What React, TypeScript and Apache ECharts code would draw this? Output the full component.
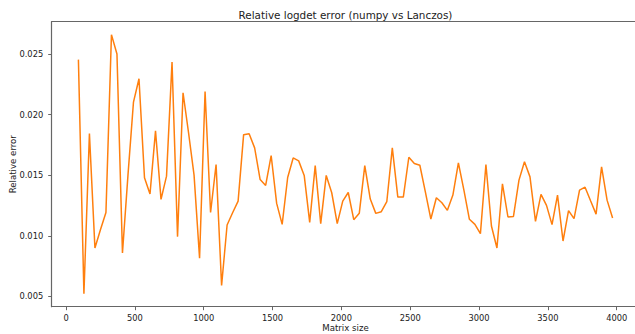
import React, { useEffect, useRef } from "react";
import * as echarts from "echarts";

const matrixSizes: number[] = [
  90, 130, 170, 210, 250, 290, 330, 370, 410, 450,
  490, 530, 570, 610, 650, 690, 730, 770, 810, 850,
  890, 930, 970, 1010, 1050, 1090, 1130, 1170, 1210, 1250,
  1290, 1330, 1370, 1410, 1450, 1490, 1530, 1570, 1610, 1650,
  1690, 1730, 1770, 1810, 1850, 1890, 1930, 1970, 2010, 2050,
  2090, 2130, 2170, 2210, 2250, 2290, 2330, 2370, 2410, 2450,
  2490, 2530, 2570, 2610, 2650, 2690, 2730, 2770, 2810, 2850,
  2890, 2930, 2970, 3010, 3050, 3090, 3130, 3170, 3210, 3250,
  3290, 3330, 3370, 3410, 3450, 3490, 3530, 3570, 3610, 3650,
  3690, 3730, 3770, 3810, 3850, 3890, 3930, 3970,
];

const relativeErrors: number[] = [
  0.02453, 0.00522, 0.01843, 0.00899, 0.0105, 0.01192, 0.02659, 0.025, 0.00858, 0.015,
  0.02103, 0.02295, 0.01479, 0.01345, 0.01865, 0.013, 0.01492, 0.02434, 0.00993, 0.0218,
  0.0185, 0.015, 0.00815, 0.0219, 0.01192, 0.01588, 0.0059, 0.01089, 0.0119, 0.01286,
  0.01834, 0.01842, 0.01725, 0.01464, 0.01415, 0.01662, 0.01267, 0.01094, 0.01481, 0.01642,
  0.01618, 0.01498, 0.01111, 0.01579, 0.011, 0.01498, 0.01355, 0.011, 0.01286, 0.01357,
  0.01133, 0.01185, 0.01579, 0.01303, 0.01185, 0.01199, 0.01281, 0.01725, 0.01319, 0.01319,
  0.01648, 0.01596, 0.01582, 0.01363, 0.01138, 0.01314, 0.01273, 0.0121, 0.01336, 0.01601,
  0.01377, 0.01136, 0.01094, 0.01018, 0.01588, 0.01081, 0.00899, 0.01429, 0.01155, 0.0116,
  0.01459, 0.0161, 0.01486, 0.01119, 0.01341, 0.01251, 0.01092, 0.01336, 0.00957, 0.01208,
  0.01141, 0.01377, 0.01401, 0.01289, 0.01179, 0.01568, 0.01294, 0.01146,
];

const xTicks: number[] = [0, 500, 1000, 1500, 2000, 2500, 3000, 3500, 4000];
const yTicks: number[] = [0.005, 0.01, 0.015, 0.02, 0.025];

const TITLE = "Relative logdet error (numpy vs Lanczos)";
const X_NAME = "Matrix size";
const Y_NAME = "Relative error";

export default function App() {
  const ref = useRef<HTMLDivElement>(null);

  useEffect(() => {
    if (!ref.current) return;
    const chart = echarts.init(ref.current, undefined, { renderer: "svg" });

    const xMinD = Math.min(...matrixSizes);
    const xMaxD = Math.max(...matrixSizes);
    const yMinD = Math.min(...relativeErrors);
    const yMaxD = Math.max(...relativeErrors);
    const xPad = (xMaxD - xMinD) * 0.05;
    const yPad = (yMaxD - yMinD) * 0.05;
    const xMin = xMinD - xPad;
    const xMax = xMaxD + xPad;
    const yMin = yMinD - yPad;
    const yMax = yMaxD + yPad;

    const font = "DejaVu Sans";
    const axisColor = "#666";
    const textColor = "#222";
    const spineLine = { show: true, onZero: false, lineStyle: { color: axisColor, width: 1.2, type: "solid" } };

    chart.setOption({
      animation: false,
      backgroundColor: "#fff",
      graphic: [
        {
          type: "text",
          x: 345.5,
          y: 14.5,
          style: {
            text: TITLE,
            fontFamily: font,
            fontSize: 10.4,
            fill: textColor,
            textAlign: "center",
            textVerticalAlign: "middle",
          },
        },
      ],
      grid: {
        left: 51.7,
        right: 5.7,
        top: 21.7,
        bottom: 27.3,
        containLabel: false,
        outerBoundsMode: "none",
      },
      xAxis: [
        {
          type: "value",
          position: "bottom",
          min: xMin,
          max: xMax,
          name: X_NAME,
          nameLocation: "middle",
          nameGap: 17,
          nameMoveOverlap: false,
          nameTextStyle: { fontFamily: font, fontSize: 8.6, color: textColor },
          axisLine: spineLine,
          splitLine: { show: false },
          axisTick: {
            show: true,
            length: 3.5,
            lineStyle: { color: axisColor, width: 1 },
            customValues: xTicks,
          },
          axisLabel: {
            fontFamily: font,
            fontSize: 8.3,
            color: textColor,
            margin: 7,
            customValues: xTicks,
            formatter: (v: number) => String(v),
          },
        },
        {
          type: "value",
          position: "top",
          min: xMin,
          max: xMax,
          axisLine: spineLine,
          axisTick: { show: false },
          axisLabel: { show: false },
          splitLine: { show: false },
        },
      ],
      yAxis: [
        {
          type: "value",
          position: "left",
          min: yMin,
          max: yMax,
          name: Y_NAME,
          nameLocation: "middle",
          nameGap: 34,
          nameMoveOverlap: false,
          nameTextStyle: { fontFamily: font, fontSize: 8.6, color: textColor },
          axisLine: spineLine,
          splitLine: { show: false },
          axisTick: {
            show: true,
            length: 3.5,
            lineStyle: { color: axisColor, width: 1 },
            customValues: yTicks,
          },
          axisLabel: {
            fontFamily: font,
            fontSize: 8.3,
            color: textColor,
            margin: 8.5,
            customValues: yTicks,
            formatter: (v: number) => v.toFixed(3),
          },
        },
        {
          type: "value",
          position: "right",
          min: yMin,
          max: yMax,
          axisLine: spineLine,
          axisTick: { show: false },
          axisLabel: { show: false },
          splitLine: { show: false },
        },
      ],
      series: [
        {
          type: "line",
          xAxisIndex: 0,
          yAxisIndex: 0,
          data: matrixSizes.map((x, i) => [x, relativeErrors[i]]),
          showSymbol: false,
          symbol: "none",
          lineStyle: { color: "#ff7f0e", width: 1.5 },
          itemStyle: { color: "#ff7f0e" },
        },
      ],
    });

    return () => {
      chart.dispose();
    };
  }, []);

  return (
    <div
      style={{
        position: "fixed",
        left: 0,
        top: 0,
        width: 635,
        height: 334,
        overflow: "hidden",
        background: "#fff",
      }}
    >
      <div ref={ref} style={{ width: 645, height: 334 }} />
    </div>
  );
}
